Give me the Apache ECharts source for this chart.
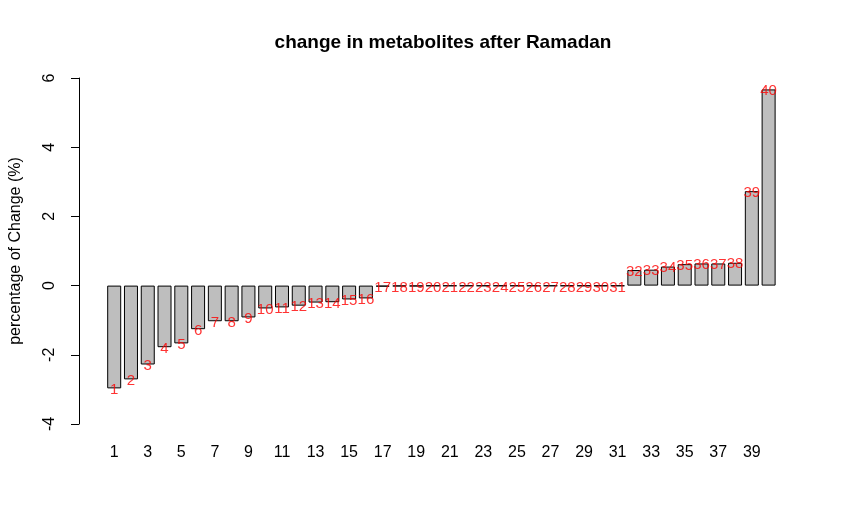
<!DOCTYPE html>
<html>
<head>
<meta charset="utf-8">
<script src="https://cdn.jsdelivr.net/npm/echarts@6/dist/echarts.min.js"></script>
<style>
html,body{margin:0;padding:0;background:#fff;}
#chart{width:845px;height:521px;}
</style>
</head>
<body>
<div id="chart"></div>
<script>
var categories = ['1','2','3','4','5','6','7','8','9','10','11','12','13','14','15','16','17','18','19','20',
                  '21','22','23','24','25','26','27','28','29','30','31','32','33','34','35','36','37','38','39','40'];
var changeValues = [-2.97,-2.71,-2.28,-1.78,-1.67,-1.26,-1.03,-1.03,-0.92,-0.66,
                    -0.63,-0.58,-0.49,-0.48,-0.40,-0.37,-0.03,-0.02,-0.02,-0.01,
                    -0.01,-0.01,-0.01,-0.01,-0.01,-0.01,-0.01,-0.01,-0.01,-0.01,
                    -0.01,0.45,0.46,0.55,0.62,0.64,0.64,0.66,2.73,5.67];
var yTicks = [-4,-2,0,2,4,6];
var titleText = 'change in metabolites after Ramadan';
var yTitle = 'percentage of Change (%)';

var chart = echarts.init(document.getElementById('chart'), null, {renderer:'canvas'});
var font = 'Liberation Sans, Arial, sans-serif';
chart.setOption({
  animation: false,
  backgroundColor: '#ffffff',
  title: {
    text: titleText, left: 438, top: 28, textAlign: 'center',
    textStyle: {fontFamily: font, fontWeight: 'bold', fontSize: 19, color: '#000'}
  },
  grid: {left: 102.8, right: 68, top: 78, bottom: 97},
  xAxis: {
    type: 'category', data: categories,
    axisLine: {show: false, onZero: false},
    axisTick: {show: false},
    axisLabel: {interval: 1, margin: 21, fontFamily: font, fontSize: 16, color: '#000'},
    splitLine: {show: false}
  },
  yAxis: {
    type: 'value', min: yTicks[0], max: yTicks[yTicks.length-1], interval: 2,
    offset: 26.8,
    name: yTitle, nameLocation: 'middle', nameGap: 55,
    nameTextStyle: {fontFamily: font, fontSize: 16, color: '#000'},
    axisLine: {show: true, lineStyle: {color: '#000', width: 1}},
    axisTick: {show: true, length: 8, lineStyle: {color: '#000'}},
    axisLabel: {rotate: 90, margin: 21, fontFamily: font, fontSize: 16, color: '#000'},
    splitLine: {show: false}
  },
  series: [
    {
      type: 'bar', data: changeValues, barWidth: 14,
      itemStyle: {color: '#bebebe', borderColor: '#000', borderWidth: 1}
    },
    {
      type: 'scatter', data: changeValues, symbolSize: 0, z: 5,
      label: {
        show: true, position: 'inside', offset: [0, 1.5], color: '#ff0000', fontFamily: font, fontSize: 15,
        formatter: function(p){ return categories[p.dataIndex]; }
      }
    }
  ]
});
</script>
</body>
</html>
